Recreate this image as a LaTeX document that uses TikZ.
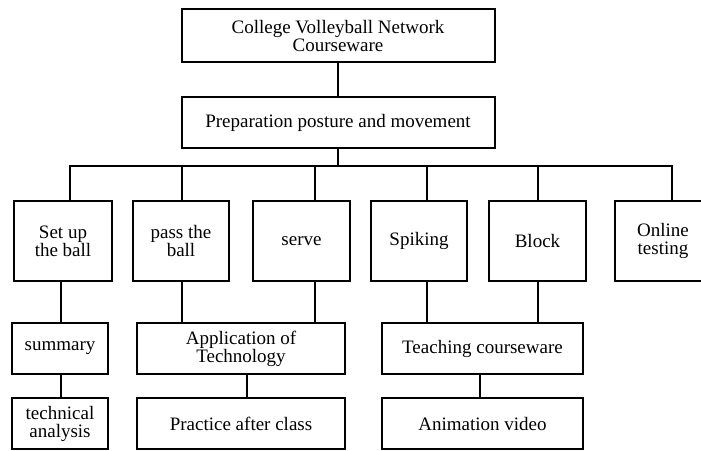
\documentclass[tikz,border=0pt]{standalone}
\usepackage{fontspec}
\setmainfont{Liberation Serif}
\begin{document}
\begin{tikzpicture}[x=1pt,y=-1pt,
  box/.style={draw, line width=2pt, inner sep=0pt, align=center,
    font=\fontsize{19}{18}\selectfont},
  link/.style={line width=2pt}]
\clip (0,0) rectangle (701,450);
\fill[white] (0,0) rectangle (701,450);

% top two levels
\node[box, minimum width=313pt, minimum height=53pt] (root) at (338,35.5) {College Volleyball Network\\Courseware};
\node[box, minimum width=313pt, minimum height=51pt] (prep) at (338,122.5) {Preparation posture and movement};

% technique boxes
\node[box, minimum width=98pt, minimum height=80pt] (c1) at (63,241) {Set up\\the ball};
\node[box, minimum width=96pt, minimum height=80pt] (c2) at (181,241) {pass the\\ball};
\node[box, minimum width=97pt, minimum height=80pt] (c3) at (301.5,241) {serve};
\node[box, minimum width=96pt, minimum height=80pt] (c4) at (419,241) {Spiking};
\node[box, minimum width=97pt, minimum height=80pt] (c5) at (537.5,241) {Block};
\node[box, minimum width=96pt, minimum height=80pt] (c6) at (663,241) {Online\\testing};

% third level
\node[box, minimum width=96pt, minimum height=51pt] (sum) at (60,348.5) {summary};
\node[box, minimum width=208pt, minimum height=51pt] (app) at (241,348.5) {Application of\\Technology};
\node[box, minimum width=201pt, minimum height=51pt] (teach) at (482.5,348.5) {Teaching courseware};

% fourth level
\node[box, minimum width=96pt, minimum height=51pt] (tech) at (60,423.5) {technical\\analysis};
\node[box, minimum width=208pt, minimum height=51pt] (prac) at (241,423.5) {Practice after class};
\node[box, minimum width=201pt, minimum height=51pt] (anim) at (482.5,423.5) {Animation video};

% bus junctions
\coordinate (j1) at (70,166);
\coordinate (j2) at (182,166);
\coordinate (j3) at (315,166);
\coordinate (j4) at (427,166);
\coordinate (j5) at (538,166);
\coordinate (j6) at (672,166);

% connectors
\draw[link] (root.south) -- (prep.north);
\draw[link] (prep.south) -- (prep.south |- j1);
\draw[link] (j1 |- c1.north) -- (j1) -- (j6) -- (j6 |- c6.north);
\draw[link] (j2) -- (j2 |- c2.north);
\draw[link] (j3) -- (j3 |- c3.north);
\draw[link] (j4) -- (j4 |- c4.north);
\draw[link] (j5) -- (j5 |- c5.north);

\draw[link] ([xshift=-2pt]c1.south) -- ([xshift=-2pt]c1.south |- sum.north);
\draw[link] ([xshift=1pt]c2.south) -- ([xshift=1pt]c2.south |- app.north);
\draw[link] ([xshift=13.5pt]c3.south) -- ([xshift=13.5pt]c3.south |- app.north);
\draw[link] ([xshift=8pt]c4.south) -- ([xshift=8pt]c4.south |- teach.north);
\draw[link] ([xshift=0.5pt]c5.south) -- ([xshift=0.5pt]c5.south |- teach.north);

\draw[link] ([xshift=1pt]sum.south) -- ([xshift=1pt]sum.south |- tech.north);
\draw[link] ([xshift=6pt]app.south) -- ([xshift=6pt]app.south |- prac.north);
\draw[link] ([xshift=-2.5pt]teach.south) -- ([xshift=-2.5pt]teach.south |- anim.north);
\end{tikzpicture}
\end{document}
